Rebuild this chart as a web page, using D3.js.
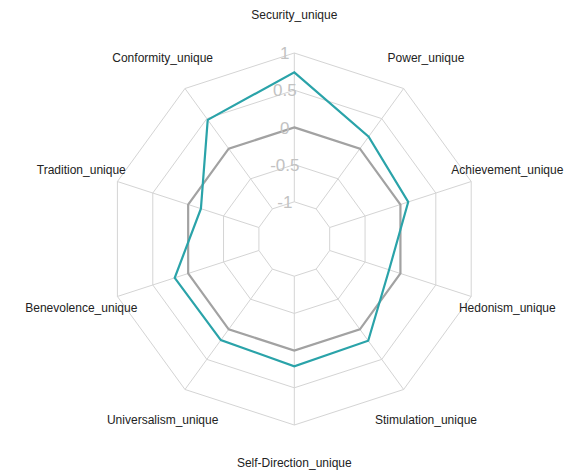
<!DOCTYPE html>
<html>
<head>
<meta charset="utf-8">
<script src="https://cdn.jsdelivr.net/npm/d3@7"></script>
<style>
  body { margin: 0; background: #fff; }
  svg { display: block; font-family: "Liberation Sans", Arial, sans-serif; }
</style>
</head>
<body>
<div id="chart"></div>
<script>
// Axes, clockwise from the top.
const categories = [
  "Security_unique", "Power_unique", "Achievement_unique", "Hedonism_unique",
  "Stimulation_unique", "Self-Direction_unique", "Universalism_unique",
  "Benevolence_unique", "Tradition_unique", "Conformity_unique"
];
// Series values.
const uniqueValues = [0.74, 0.20, 0.11, -0.16, 0.19, 0.21, 0.18, 0.19, -0.18, 0.48];
const baselineValues = [0, 0, 0, 0, 0, 0, 0, 0, 0, 0];
// Grid levels and their labels.
const tickValues = [-1, -0.5, 0, 0.5, 1];
const tickLabels = ["-1", "-0.5", "0", "0.5", "1"];

const width = 588, height = 471;
const cx = 294.3, cy = 239;

const svg = d3.select("#chart").append("svg")
  .attr("width", width).attr("height", height);

const g = svg.append("g").attr("transform", `translate(${cx},${cy})`);

// Radial scale: centre sits below the lowest grid ring.
const r = d3.scaleLinear().domain([-1.5, 1]).range([0, 186]);
const angle = d3.scaleLinear().domain([0, categories.length]).range([0, 2 * Math.PI]);

const point = (i, v) => {
  const a = angle(i);
  return [Math.sin(a) * r(v), -Math.cos(a) * r(v)];
};

// Grid rings.
g.append("g").selectAll("polygon")
  .data(tickValues)
  .join("polygon")
  .attr("points", (t) => categories.map((_, i) => point(i, t).join(",")).join(" "))
  .attr("fill", "none")
  .attr("stroke", "#d4d4d4")
  .attr("stroke-width", 1);

// Spokes from the inner ring to the outer ring.
g.append("g").selectAll("line")
  .data(categories)
  .join("line")
  .attr("x1", (_, i) => point(i, tickValues[0])[0])
  .attr("y1", (_, i) => point(i, tickValues[0])[1])
  .attr("x2", (_, i) => point(i, tickValues[tickValues.length - 1])[0])
  .attr("y2", (_, i) => point(i, tickValues[tickValues.length - 1])[1])
  .attr("stroke", "#d4d4d4")
  .attr("stroke-width", 1);

// Series.
const line = d3.lineRadial()
  .angle((_, i) => angle(i))
  .radius((d) => r(d))
  .curve(d3.curveLinearClosed);

g.append("path")
  .datum(baselineValues)
  .attr("d", line)
  .attr("fill", "none")
  .attr("stroke", "#a2a2a2")
  .attr("stroke-width", 2.2);

g.append("path")
  .datum(uniqueValues)
  .attr("d", line)
  .attr("fill", "none")
  .attr("stroke", "#2aa3a9")
  .attr("stroke-width", 2.2);

// Tick labels along the top axis.
g.append("g").selectAll("text")
  .data(tickValues)
  .join("text")
  .attr("x", -9.5)
  .attr("y", (t) => -r(t))
  .attr("dy", "0.36em")
  .attr("text-anchor", "middle")
  .attr("font-size", 17)
  .attr("fill", "#c2c2c2")
  .text((_, i) => tickLabels[i]);

// Category labels.
g.append("g").selectAll("text")
  .data(categories)
  .join("text")
  .attr("x", (_, i) => Math.sin(angle(i)) * (r(1) + 38))
  .attr("y", (_, i) => -Math.cos(angle(i)) * (r(1) + 38))
  .attr("dy", "0.35em")
  .attr("text-anchor", "middle")
  .attr("font-size", 12)
  .attr("fill", "#222")
  .text((d) => d);
</script>
</body>
</html>
